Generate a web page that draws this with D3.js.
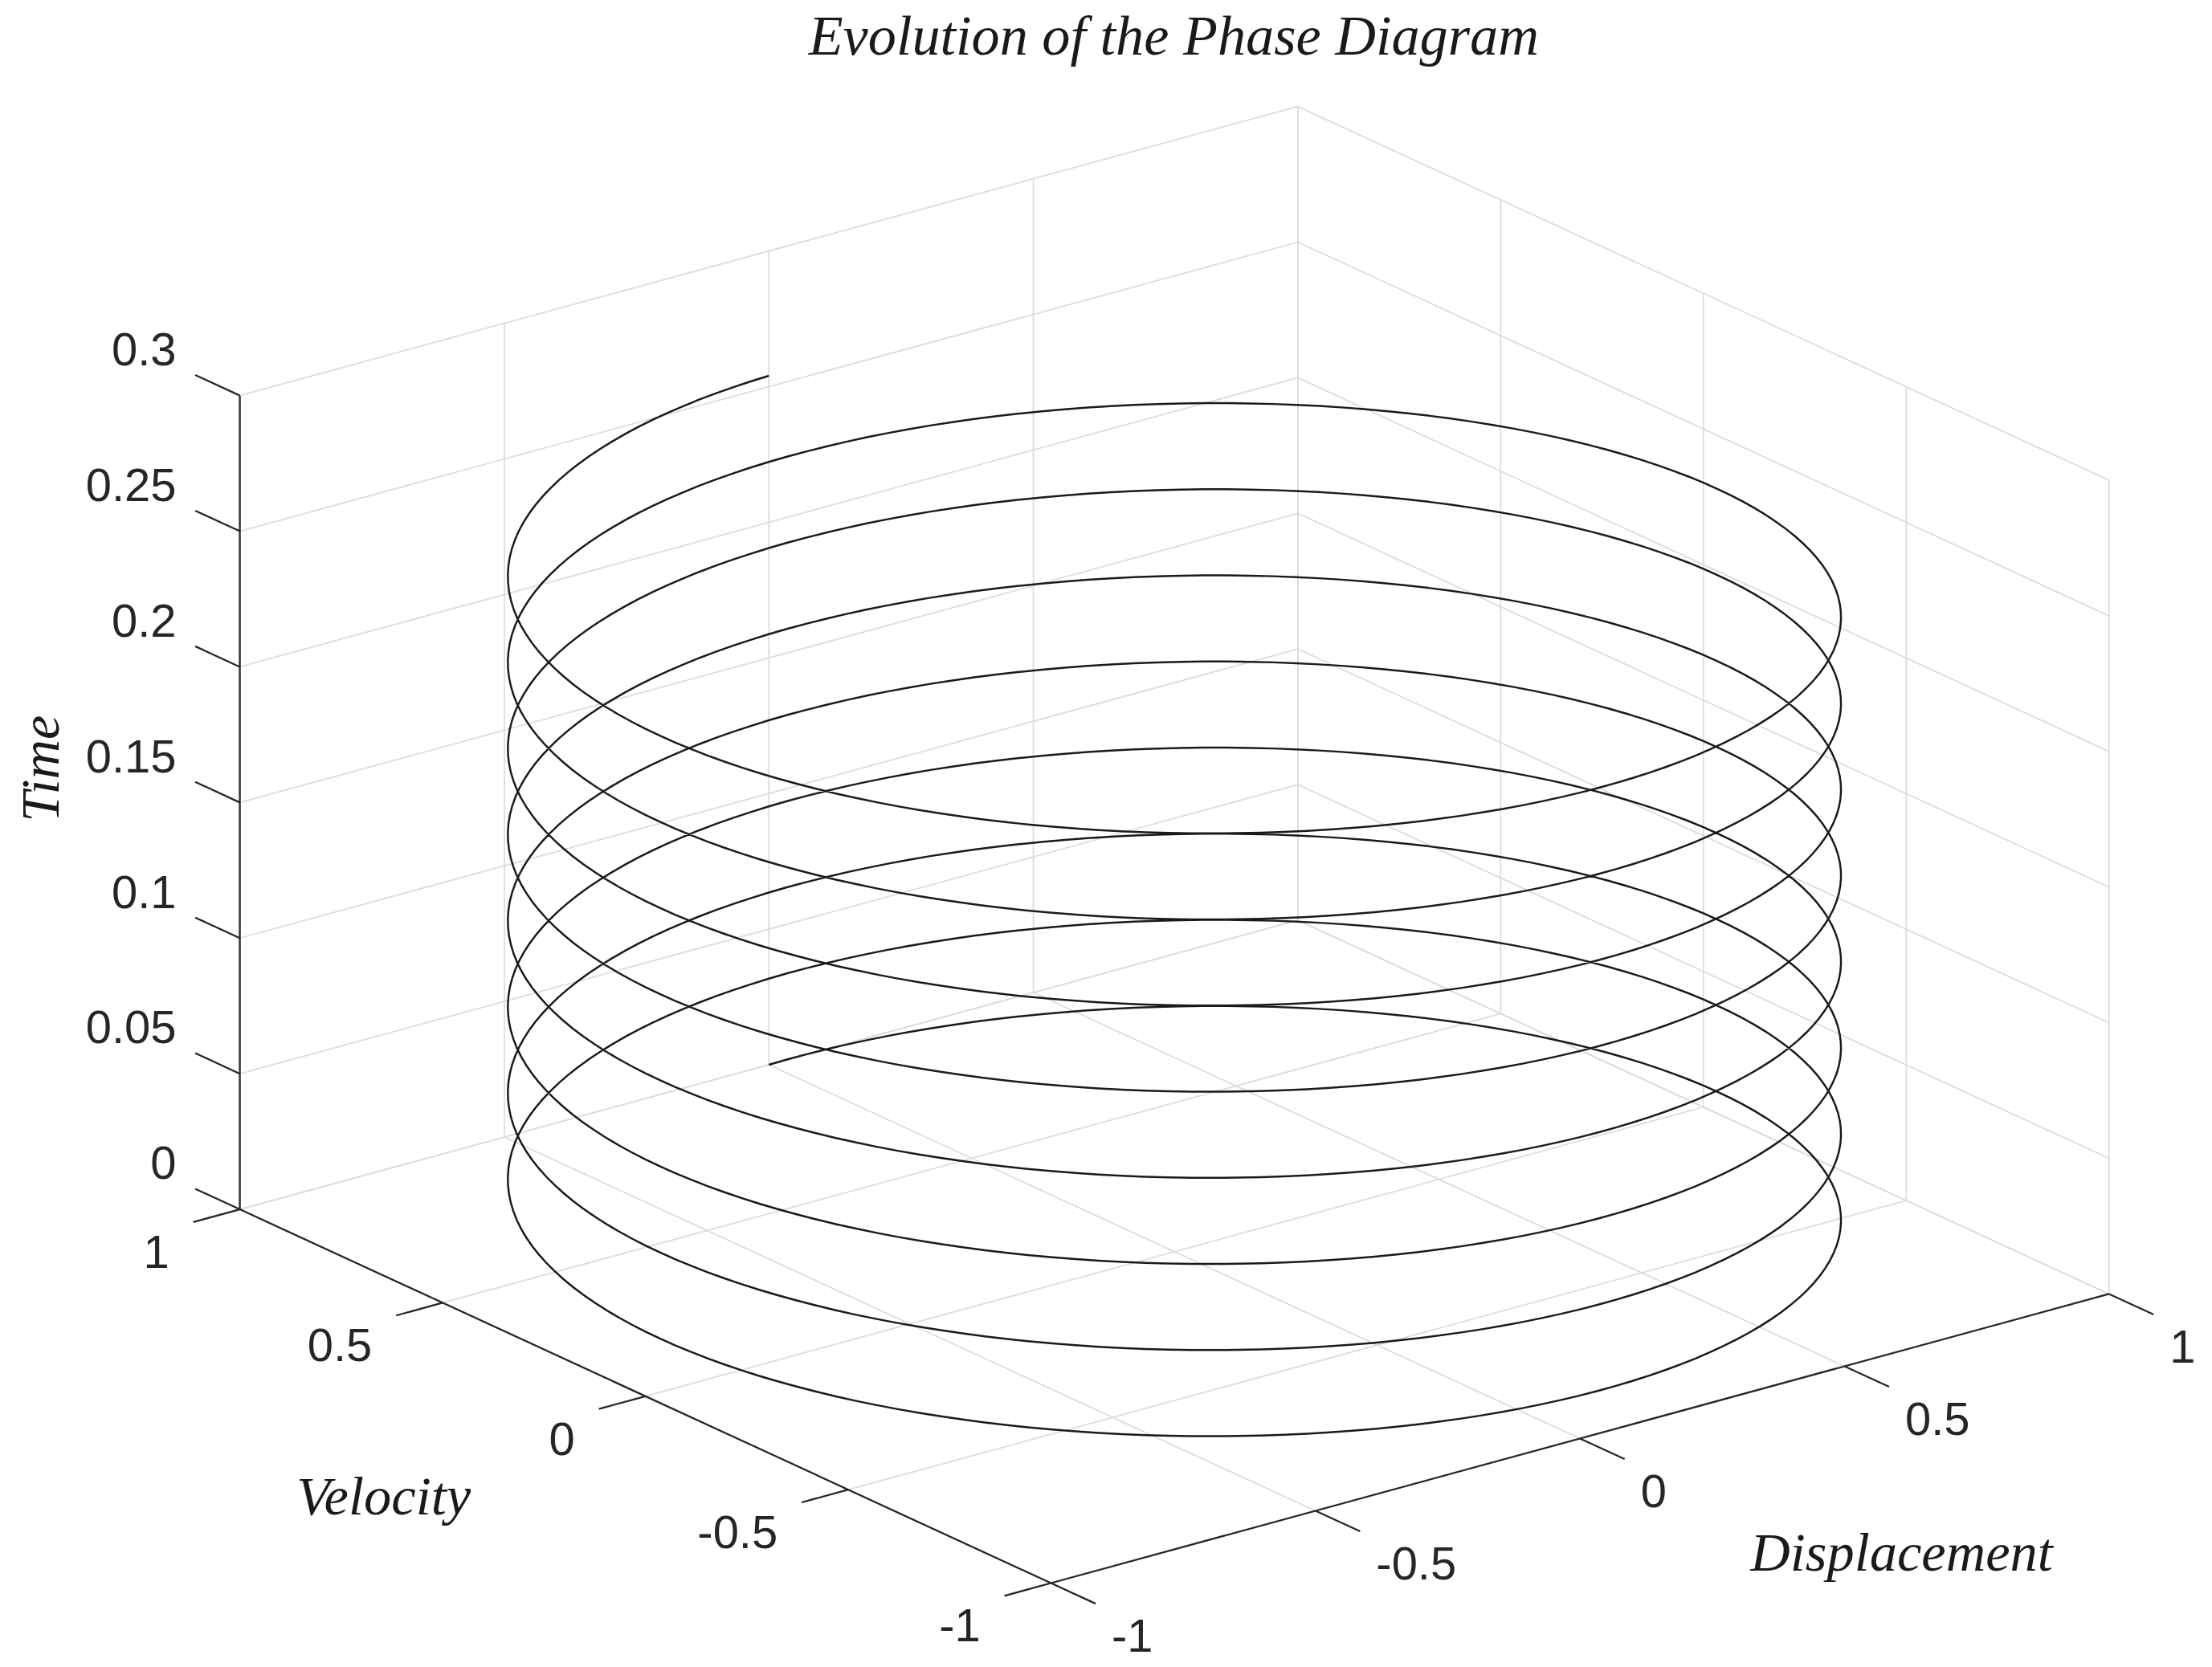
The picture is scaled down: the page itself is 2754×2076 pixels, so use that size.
<!DOCTYPE html>
<html>
<head>
<meta charset="utf-8">
<script src="https://cdn.jsdelivr.net/npm/d3@7"></script>
<style>
  html, body { margin: 0; padding: 0; background: #fff; }
</style>
</head>
<body>
<div id="chart"></div>
<script>
// axis ticks
const dispTicks = [-1, -0.5, 0, 0.5, 1];
const velTicks = [-1, -0.5, 0, 0.5, 1];
const timeTicks = [0, 0.05, 0.1, 0.15, 0.2, 0.25, 0.3];
const dispTickLabels = ["-1", "-0.5", "0", "0.5", "1"];
const velTickLabels = ["-1", "-0.5", "0", "0.5", "1"];
const timeTickLabels = ["0", "0.05", "0.1", "0.15", "0.2", "0.25", "0.3"];

// oscillation: 8 full turns, unit amplitude
const amplitude = 1;
const cycles = 8;
const tEnd = 0.254;
const samplesPerCycle = 180;

const W = 1568, H = 1182;
const svg = d3.select("#chart").append("svg")
  .attr("width", 2754).attr("height", 2076)
  .attr("viewBox", `0 0 ${W} ${H}`);

// projection (view like matlab default 3D)
const origin = [832.5, 887.5];
const ex = [375, -102.5];     // per unit displacement
const ey = [-287.5, -132.5];  // per unit velocity
const zScale = d3.scaleLinear().domain([0, 0.3]).range([0, 577]);
function proj(x, y, z) {
  return [origin[0] + x * ex[0] + y * ey[0],
          origin[1] + x * ex[1] + y * ey[1] - zScale(z)];
}

const grid = svg.append("g").attr("stroke", "#dcdcdc").attr("stroke-width", 1).attr("fill", "none");
function seg(g, a, b) {
  g.append("line").attr("x1", a[0]).attr("y1", a[1]).attr("x2", b[0]).attr("y2", b[1]);
}
// floor
dispTicks.forEach(x => seg(grid, proj(x, -1, 0), proj(x, 1, 0)));
velTicks.forEach(y => seg(grid, proj(-1, y, 0), proj(1, y, 0)));
// back wall y=1
dispTicks.forEach(x => seg(grid, proj(x, 1, 0), proj(x, 1, 0.3)));
timeTicks.forEach(z => seg(grid, proj(-1, 1, z), proj(1, 1, z)));
// back wall x=1
velTicks.forEach(y => seg(grid, proj(1, y, 0), proj(1, y, 0.3)));
timeTicks.forEach(z => seg(grid, proj(1, -1, z), proj(1, 1, z)));

// axes
const ax = svg.append("g").attr("stroke", "#262626").attr("stroke-width", 1.3).attr("fill", "none");
seg(ax, proj(-1, 1, 0), proj(-1, 1, 0.3));
seg(ax, proj(-1, 1, 0), proj(-1, -1, 0));
seg(ax, proj(-1, -1, 0), proj(1, -1, 0));

const tickLen = 0.11;
const font = "'Liberation Sans', Arial, sans-serif";
const serif = "'Liberation Serif', 'Times New Roman', serif";
const lab = svg.append("g").attr("font-family", font).attr("font-size", 33).attr("fill", "#262626");

timeTicks.forEach((z, i) => {
  const p = proj(-1, 1, z);
  seg(ax, p, proj(-1, 1 + tickLen, z));
  lab.append("text").attr("x", p[0] - 45).attr("y", p[1] - 33).attr("dy", "0.35em")
    .attr("text-anchor", "end").text(timeTickLabels[i]);
});
velTicks.forEach((y, i) => {
  const p = proj(-1, y, 0);
  seg(ax, p, proj(-1 - tickLen * 0.8, y, 0));
  lab.append("text").attr("x", p[0] - 50).attr("y", p[1] + 30).attr("dy", "0.35em")
    .attr("text-anchor", "end").text(velTickLabels[i]);
});
dispTicks.forEach((x, i) => {
  const p = proj(x, -1, 0);
  seg(ax, p, proj(x, -1 - tickLen, 0));
  lab.append("text").attr("x", p[0] + 43).attr("y", p[1] + 37).attr("dy", "0.35em")
    .attr("text-anchor", "start").text(dispTickLabels[i]);
});

// helix
const ts = d3.range(0, cycles * samplesPerCycle + 1).map(i => i / (cycles * samplesPerCycle) * tEnd);
const omega = 2 * Math.PI * cycles / tEnd;
const pts = ts.map(t => proj(amplitude * Math.sin(omega * t), amplitude * Math.cos(omega * t), t));
svg.append("path").datum(pts)
  .attr("d", d3.line())
  .attr("fill", "none").attr("stroke", "#1a1a1a").attr("stroke-width", 1.4);

// labels
const tl = svg.append("g").attr("font-family", serif).attr("font-style", "italic")
  .attr("font-size", 39).attr("fill", "#1a1a1a").attr("text-anchor", "middle");
tl.append("text").attr("x", 832).attr("y", 25).attr("dy", "0.35em").attr("font-size", 40).text("Evolution of the Phase Diagram");
tl.append("text").attr("transform", "translate(28,545) rotate(-90)").attr("dy", "0.35em").text("Time");
tl.append("text").attr("x", 272).attr("y", 1060).attr("dy", "0.35em").text("Velocity");
tl.append("text").attr("x", 1348).attr("y", 1100).attr("dy", "0.35em").text("Displacement");
</script>
</body>
</html>
